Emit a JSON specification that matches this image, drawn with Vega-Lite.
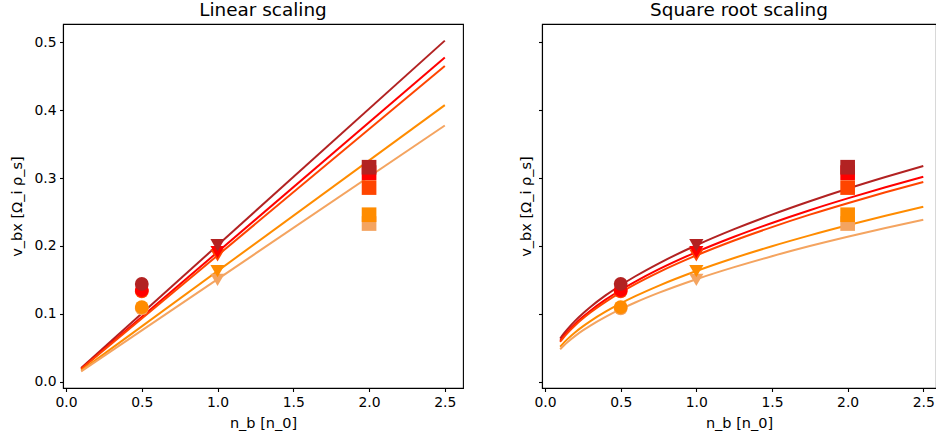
{
  "$schema": "https://vega.github.io/schema/vega-lite/v6.json",
  "background": "white",
  "padding": {"left": 9, "top": 0, "right": 0, "bottom": 0},
  "bounds": "flush",
  "spacing": 79,
  "config": {
    "font": "DejaVu Sans",
    "view": {"stroke": "black", "strokeWidth": 1.1},
    "axis": {
      "domainColor": "black", "domainWidth": 1.1,
      "tickColor": "black", "tickWidth": 1.1, "tickSize": 3.5,
      "labelFont": "DejaVu Sans", "labelFontSize": 13.9, "labelColor": "black", "labelPadding": 3.5,
      "titleFont": "DejaVu Sans", "titleFontSize": 14.5, "titleFontWeight": "normal", "titleColor": "black",
      "grid": false
    },
    "title": {"font": "DejaVu Sans", "fontSize": 18.4, "fontWeight": "normal", "color": "black", "offset": 5}
  },
  "datasets": {
    "measured": [
      {"n": 0.5, "v": 0.108, "run": "E"}, {"n": 1.0, "v": 0.150, "run": "E"}, {"n": 2.0, "v": 0.233, "run": "E"},
      {"n": 0.5, "v": 0.110, "run": "D"}, {"n": 1.0, "v": 0.163, "run": "D"}, {"n": 2.0, "v": 0.246, "run": "D"},
      {"n": 0.5, "v": 0.133, "run": "C"}, {"n": 1.0, "v": 0.186, "run": "C"}, {"n": 2.0, "v": 0.286, "run": "C"},
      {"n": 0.5, "v": 0.135, "run": "B"}, {"n": 1.0, "v": 0.191, "run": "B"}, {"n": 2.0, "v": 0.308, "run": "B"},
      {"n": 0.5, "v": 0.144, "run": "A"}, {"n": 1.0, "v": 0.201, "run": "A"}, {"n": 2.0, "v": 0.316, "run": "A"}
    ],
    "linear": [
      {"n": 0.1, "v": 0.0201, "run": "A"}, {"n": 2.5, "v": 0.5025, "run": "A"},
      {"n": 0.1, "v": 0.0191, "run": "B"}, {"n": 2.5, "v": 0.4775, "run": "B"},
      {"n": 0.1, "v": 0.0186, "run": "C"}, {"n": 2.5, "v": 0.4650, "run": "C"},
      {"n": 0.1, "v": 0.0163, "run": "D"}, {"n": 2.5, "v": 0.4075, "run": "D"},
      {"n": 0.1, "v": 0.0151, "run": "E"}, {"n": 2.5, "v": 0.3775, "run": "E"}
    ],
    "sqrt": [
      {"n": 0.1, "v": 0.0636, "run": "A"}, {"n": 0.125, "v": 0.0711, "run": "A"}, {"n": 0.15, "v": 0.0778, "run": "A"},
      {"n": 0.2, "v": 0.0899, "run": "A"}, {"n": 0.25, "v": 0.1005, "run": "A"}, {"n": 0.3, "v": 0.1101, "run": "A"},
      {"n": 0.4, "v": 0.1271, "run": "A"}, {"n": 0.5, "v": 0.1421, "run": "A"}, {"n": 0.6, "v": 0.1557, "run": "A"},
      {"n": 0.75, "v": 0.1741, "run": "A"}, {"n": 1.0, "v": 0.2010, "run": "A"}, {"n": 1.25, "v": 0.2247, "run": "A"},
      {"n": 1.5, "v": 0.2462, "run": "A"}, {"n": 1.75, "v": 0.2659, "run": "A"}, {"n": 2.0, "v": 0.2843, "run": "A"},
      {"n": 2.25, "v": 0.3015, "run": "A"}, {"n": 2.5, "v": 0.3178, "run": "A"},
      {"n": 0.1, "v": 0.0604, "run": "B"}, {"n": 0.125, "v": 0.0675, "run": "B"}, {"n": 0.15, "v": 0.0740, "run": "B"},
      {"n": 0.2, "v": 0.0854, "run": "B"}, {"n": 0.25, "v": 0.0955, "run": "B"}, {"n": 0.3, "v": 0.1046, "run": "B"},
      {"n": 0.4, "v": 0.1208, "run": "B"}, {"n": 0.5, "v": 0.1351, "run": "B"}, {"n": 0.6, "v": 0.1479, "run": "B"},
      {"n": 0.75, "v": 0.1654, "run": "B"}, {"n": 1.0, "v": 0.1910, "run": "B"}, {"n": 1.25, "v": 0.2135, "run": "B"},
      {"n": 1.5, "v": 0.2339, "run": "B"}, {"n": 1.75, "v": 0.2527, "run": "B"}, {"n": 2.0, "v": 0.2701, "run": "B"},
      {"n": 2.25, "v": 0.2865, "run": "B"}, {"n": 2.5, "v": 0.3020, "run": "B"},
      {"n": 0.1, "v": 0.0588, "run": "C"}, {"n": 0.125, "v": 0.0658, "run": "C"}, {"n": 0.15, "v": 0.0720, "run": "C"},
      {"n": 0.2, "v": 0.0832, "run": "C"}, {"n": 0.25, "v": 0.0930, "run": "C"}, {"n": 0.3, "v": 0.1019, "run": "C"},
      {"n": 0.4, "v": 0.1176, "run": "C"}, {"n": 0.5, "v": 0.1315, "run": "C"}, {"n": 0.6, "v": 0.1441, "run": "C"},
      {"n": 0.75, "v": 0.1611, "run": "C"}, {"n": 1.0, "v": 0.1860, "run": "C"}, {"n": 1.25, "v": 0.2080, "run": "C"},
      {"n": 1.5, "v": 0.2278, "run": "C"}, {"n": 1.75, "v": 0.2461, "run": "C"}, {"n": 2.0, "v": 0.2630, "run": "C"},
      {"n": 2.25, "v": 0.2790, "run": "C"}, {"n": 2.5, "v": 0.2941, "run": "C"},
      {"n": 0.1, "v": 0.0515, "run": "D"}, {"n": 0.125, "v": 0.0576, "run": "D"}, {"n": 0.15, "v": 0.0631, "run": "D"},
      {"n": 0.2, "v": 0.0729, "run": "D"}, {"n": 0.25, "v": 0.0815, "run": "D"}, {"n": 0.3, "v": 0.0893, "run": "D"},
      {"n": 0.4, "v": 0.1031, "run": "D"}, {"n": 0.5, "v": 0.1153, "run": "D"}, {"n": 0.6, "v": 0.1263, "run": "D"},
      {"n": 0.75, "v": 0.1412, "run": "D"}, {"n": 1.0, "v": 0.1630, "run": "D"}, {"n": 1.25, "v": 0.1822, "run": "D"},
      {"n": 1.5, "v": 0.1996, "run": "D"}, {"n": 1.75, "v": 0.2156, "run": "D"}, {"n": 2.0, "v": 0.2305, "run": "D"},
      {"n": 2.25, "v": 0.2445, "run": "D"}, {"n": 2.5, "v": 0.2577, "run": "D"},
      {"n": 0.1, "v": 0.0477, "run": "E"}, {"n": 0.125, "v": 0.0534, "run": "E"}, {"n": 0.15, "v": 0.0585, "run": "E"},
      {"n": 0.2, "v": 0.0675, "run": "E"}, {"n": 0.25, "v": 0.0755, "run": "E"}, {"n": 0.3, "v": 0.0827, "run": "E"},
      {"n": 0.4, "v": 0.0955, "run": "E"}, {"n": 0.5, "v": 0.1068, "run": "E"}, {"n": 0.6, "v": 0.1170, "run": "E"},
      {"n": 0.75, "v": 0.1308, "run": "E"}, {"n": 1.0, "v": 0.1510, "run": "E"}, {"n": 1.25, "v": 0.1688, "run": "E"},
      {"n": 1.5, "v": 0.1849, "run": "E"}, {"n": 1.75, "v": 0.1998, "run": "E"}, {"n": 2.0, "v": 0.2135, "run": "E"},
      {"n": 2.25, "v": 0.2265, "run": "E"}, {"n": 2.5, "v": 0.2387, "run": "E"}
    ]
  },
  "hconcat": [
    {
      "title": "Linear scaling",
      "width": 400,
      "height": 364,
      "layer": [
        {
          "data": {"name": "linear"},
          "mark": {"type": "line", "strokeWidth": 2, "clip": true},
          "encoding": {
            "x": {"field": "n", "type": "quantitative", "scale": {"domain": [-0.02, 2.62], "nice": false, "zero": false},
                  "axis": {"values": [0, 0.5, 1, 1.5, 2, 2.5], "format": ".1f", "title": "n_b [n_0]", "titlePadding": 8}},
            "y": {"field": "v", "type": "quantitative", "scale": {"domain": [-0.0093, 0.527], "nice": false, "zero": false},
                  "axis": {"values": [0, 0.1, 0.2, 0.3, 0.4, 0.5], "format": ".1f", "title": "v_bx [Ω_i ρ_s]", "titlePadding": 9}},
            "color": {"field": "run", "type": "nominal", "legend": null,
                      "scale": {"domain": ["A", "B", "C", "D", "E"], "range": ["#b22222", "#ff0000", "#ff4500", "#ff8c00", "#f4a460"]}},
            "order": {"field": "n", "type": "quantitative"}
          }
        },
        {
          "data": {"name": "measured"},
          "mark": {"type": "point", "filled": true, "opacity": 1},
          "encoding": {
            "x": {"field": "n", "type": "quantitative"},
            "y": {"field": "v", "type": "quantitative"},
            "color": {"field": "run", "type": "nominal", "legend": null},
            "shape": {"field": "n", "type": "nominal", "legend": null,
                      "scale": {"domain": [0.5, 1, 2], "range": ["circle", "triangle-down", "square"]}},
            "size": {"field": "n", "type": "nominal", "legend": null,
                     "scale": {"domain": [0.5, 1, 2], "range": [190, 215, 220]}}
          }
        }
      ]
    },
    {
      "title": "Square root scaling",
      "width": 394,
      "height": 364,
      "layer": [
        {
          "data": {"name": "sqrt"},
          "mark": {"type": "line", "strokeWidth": 2, "clip": true, "interpolate": "monotone"},
          "encoding": {
            "x": {"field": "n", "type": "quantitative", "scale": {"domain": [-0.02, 2.584], "nice": false, "zero": false},
                  "axis": {"values": [0, 0.5, 1, 1.5, 2, 2.5], "format": ".1f", "title": "n_b [n_0]", "titlePadding": 8}},
            "y": {"field": "v", "type": "quantitative", "scale": {"domain": [-0.0093, 0.527], "nice": false, "zero": false},
                  "axis": {"values": [0, 0.1, 0.2, 0.3, 0.4, 0.5], "labels": false, "title": "v_bx [Ω_i ρ_s]", "titlePadding": 4}},
            "color": {"field": "run", "type": "nominal", "legend": null,
                      "scale": {"domain": ["A", "B", "C", "D", "E"], "range": ["#b22222", "#ff0000", "#ff4500", "#ff8c00", "#f4a460"]}},
            "order": {"field": "n", "type": "quantitative"}
          }
        },
        {
          "data": {"name": "measured"},
          "mark": {"type": "point", "filled": true, "opacity": 1},
          "encoding": {
            "x": {"field": "n", "type": "quantitative"},
            "y": {"field": "v", "type": "quantitative"},
            "color": {"field": "run", "type": "nominal", "legend": null},
            "shape": {"field": "n", "type": "nominal", "legend": null,
                      "scale": {"domain": [0.5, 1, 2], "range": ["circle", "triangle-down", "square"]}},
            "size": {"field": "n", "type": "nominal", "legend": null,
                     "scale": {"domain": [0.5, 1, 2], "range": [190, 215, 220]}}
          }
        }
      ]
    }
  ]
}
